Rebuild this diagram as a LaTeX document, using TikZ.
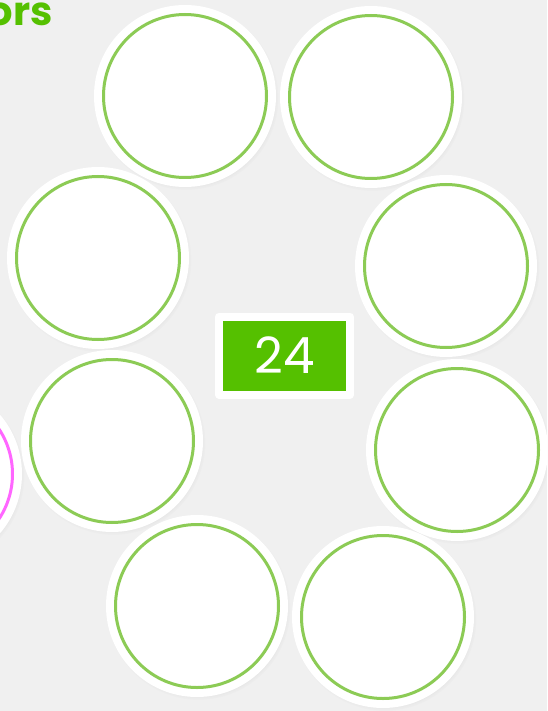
\documentclass[tikz,border=0pt]{standalone}
\usepackage{fontspec}
\setmainfont{Poppins}
\usetikzlibrary{shadows}
\definecolor{bggray}{HTML}{F0F0F0}
\definecolor{ringgreen}{HTML}{8CCB55}
\definecolor{boxgreen}{HTML}{55C000}
\definecolor{ringpink}{HTML}{FF66FF}
\begin{document}
\begin{tikzpicture}[x=1pt, y=-1pt, line join=round, line cap=round,
	plate/.style={circle, fill=white, inner sep=0pt, minimum size=182pt,
		circular drop shadow={shadow xshift=1.5pt, shadow yshift=-2pt, shadow scale=1.01, opacity=0.22}},
	ring/.style={line width=3pt}]
	\useasboundingbox (0,0) rectangle (547,711);
	\clip (0,0) rectangle (547,711);
	\fill[bggray] (0,0) rectangle (547,711);
	\node[anchor=base west, text=boxgreen, font=\fontsize{40}{40}\selectfont\bfseries] (title) at (-16,26) {ors};
	\path (185,96) coordinate (F1)
	(371,97) coordinate (F2)
	(98,258) coordinate (F3)
	(446,266) coordinate (F4)
	(112,441) coordinate (F5)
	(457,450) coordinate (F6)
	(197,606) coordinate (F7)
	(383,617) coordinate (F8)
	(-69,474) coordinate (P);
	\node[plate] (pk) at (P) {};
	\draw[ring, ringpink] (P) circle (81.5);
	\foreach \p in {F1,F2,F3,F4,F5,F6,F7,F8} {
		\node[plate] (c\p) at (\p) {};
		\draw[ring, ringgreen] (\p) circle (81.5);
	}
	\node[fill=boxgreen, draw=white, line width=8pt, minimum width=131pt, minimum height=78pt,
		text=white, font=\fontsize{50}{50}\selectfont,
		drop shadow={shadow xshift=1.5pt, shadow yshift=-2pt, opacity=0.22}] (num) at (284.5,355.5) {24};
\end{tikzpicture}
\end{document}
